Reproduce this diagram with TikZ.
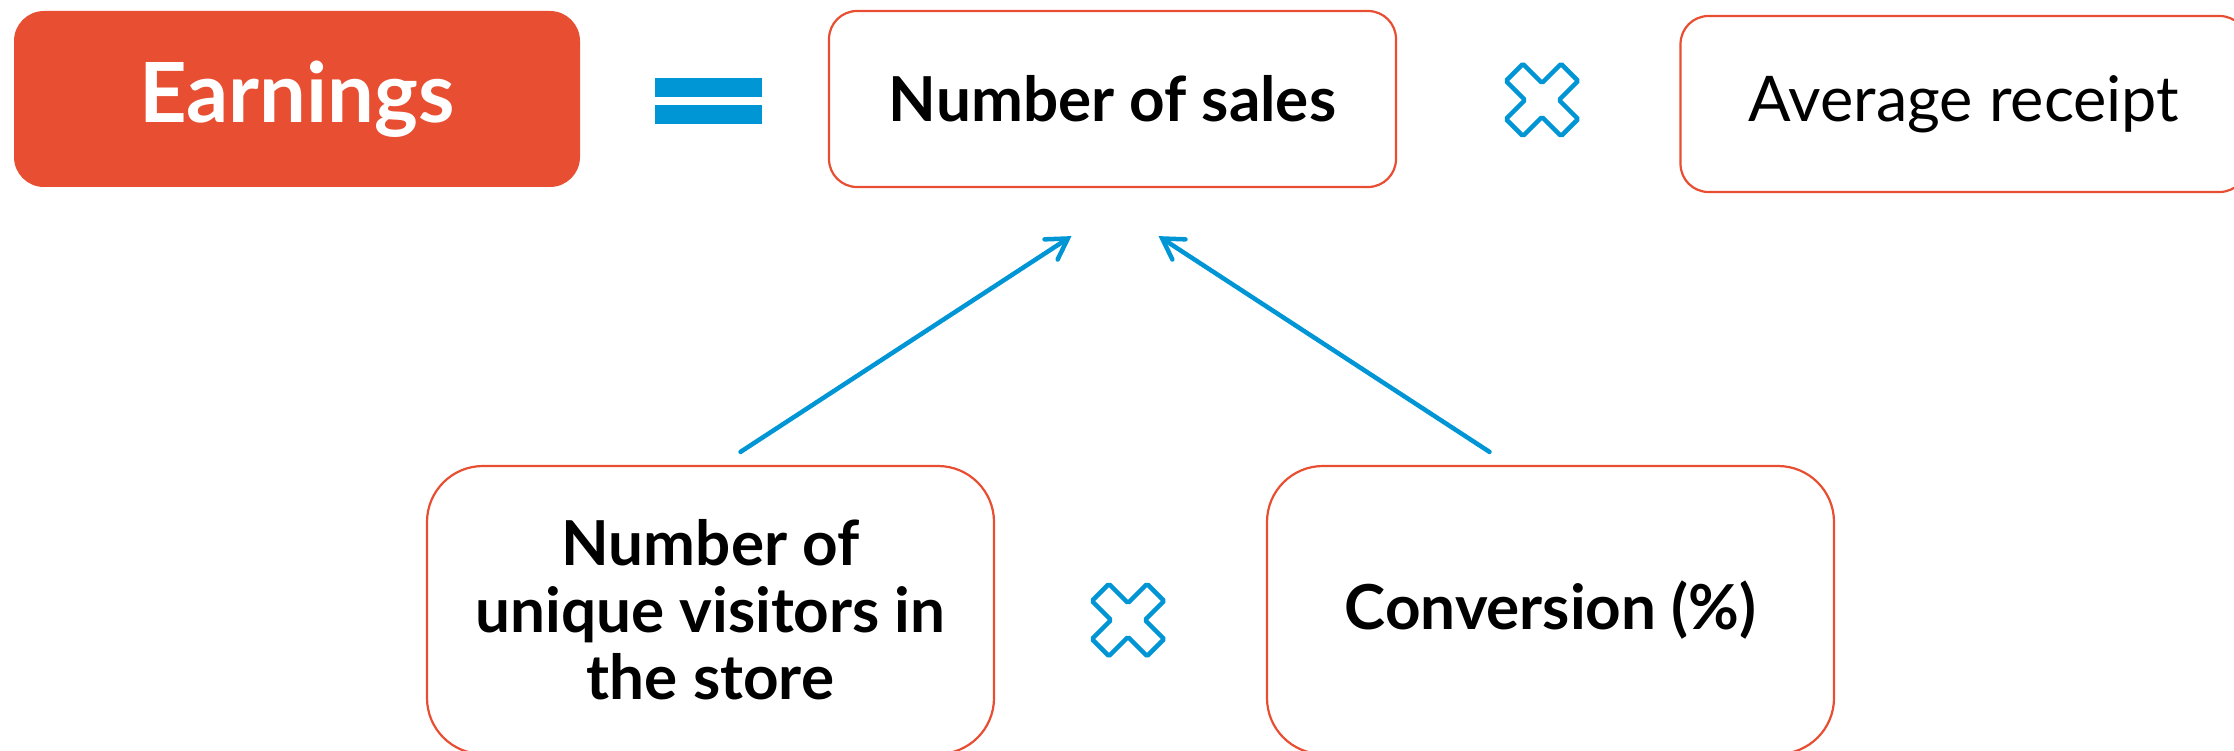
\documentclass[tikz,border=0pt]{standalone}
\usepackage{fontspec}
\setmainfont{Lato}
\usetikzlibrary{arrows.meta}
\definecolor{brandred}{RGB}{232,78,49}
\definecolor{brandblue}{RGB}{0,150,214}
\tikzset{
	factor/.style={draw=brandred, line width=2.2pt, rounded corners=28pt, fill=white,
		minimum width=567pt, minimum height=176pt, inner sep=0pt, align=center,
		font=\fontsize{62}{67}\selectfont\bfseries},
	lowfactor/.style={factor, rounded corners=56pt, minimum height=288pt},
	eqbar/.style={fill=brandblue, inner sep=0pt, minimum width=107pt, minimum height=19pt},
	flow/.style={brandblue, line width=4.5pt, line cap=round,
		-{Straight Barb[length=20pt,width=24pt,line cap=round]}},
	times/.pic={
		\draw[brandblue, line width=4.5pt, rounded corners=1.5pt, rotate=45]
			(12,-39) -- (12,-12) -- (39,-12) -- (39,12) -- (12,12) -- (12,39)
			-- (-12,39) -- (-12,12) -- (-39,12) -- (-39,-12) -- (-12,-12)
			-- (-12,-39) -- cycle;}
}

\begin{document}
\begin{tikzpicture}[x=1pt,y=-1pt]
	\useasboundingbox (0,0) rectangle (2234,751);
	% top row
	\node[fill=brandred, rounded corners=30pt, minimum width=566pt, minimum height=176pt,
		text=white, font=\fontsize{83}{85}\selectfont\bfseries] (earnings) at (297,99) {Earnings};
	\node[eqbar] (eqtop) at (708.5,87.5) {};
	\node[eqbar] (eqbot) at (708.5,114.5) {};
	\node[factor] (sales) at (1112.5,99) {Number of sales};
	\pic at (1542,100) {times};
	\node[factor, font=\fontsize{63}{67}\selectfont] (receipt) at (1964,104) {Average receipt};
	% bottom row
	\node[lowfactor] (visitors) at (710.5,610) {Number of\\unique visitors in\\the store};
	\pic at (1128,620) {times};
	\node[lowfactor] (conversion) at (1550.5,610) {Conversion (\%)};
	% arrows
	\draw[flow] ([shift={(30,-13)}]visitors.north) -- ([shift={(-41,48)}]sales.south);
	\draw[flow] ([shift={(-61,-13)}]conversion.north) -- ([shift={(46,48)}]sales.south);
\end{tikzpicture}
\end{document}
